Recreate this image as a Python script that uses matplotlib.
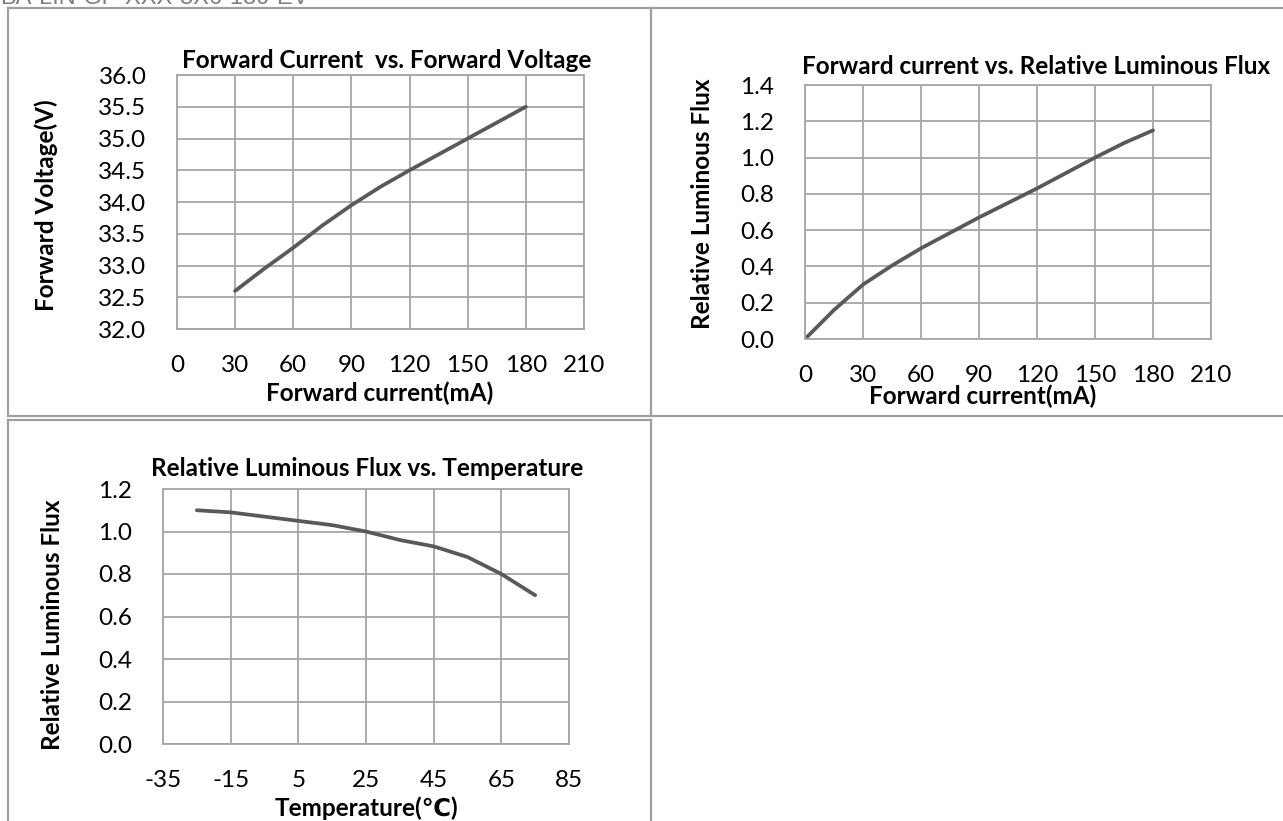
import matplotlib
matplotlib.use("Agg")
import matplotlib.pyplot as plt
from matplotlib.lines import Line2D

plt.rcParams['font.family'] = ['Lato', 'DejaVu Sans']
plt.rcParams['axes.unicode_minus'] = False

W, H = 1283, 821

# chart 1: forward current vs forward voltage
fv_current = [30, 45, 60, 75, 90, 105, 120, 135, 150, 165, 180]
fv_voltage = [32.6, 32.95, 33.28, 33.63, 33.95, 34.24, 34.5, 34.75, 35.0, 35.25, 35.5]

# chart 2: forward current vs relative luminous flux
lf_current = [0, 15, 30, 45, 60, 75, 90, 105, 120, 135, 150, 165, 180]
lf_flux = [0.0, 0.16, 0.3, 0.405, 0.5, 0.585, 0.67, 0.75, 0.83, 0.915, 1.0, 1.08, 1.15]

# chart 3: temperature vs relative luminous flux
temp = [-25, -15, -5, 5, 15, 25, 35, 45, 55, 65, 75]
temp_flux = [1.1, 1.09, 1.07, 1.05, 1.03, 1.0, 0.96, 0.93, 0.88, 0.8, 0.7]

header = "BA-LIN-GP-XXX-8X6-180-EV"

GRID = '#a6a6a6'
LINE = '#595959'
TABLE = '#a0a0a0'
FS = 17.5


def px_box(left, top, right, bottom):
    return [left / W, 1 - bottom / H, (right - left) / W, (bottom - top) / H]


def fx(x):
    return x / W


def fy(y):
    return 1 - y / H


fig = plt.figure(figsize=(W / 100, H / 100), dpi=100)

# table borders
table_lines = [
    ((8, 1283), (8, 8)),
    ((8, 8), (8, 416)),
    ((651, 651), (8, 416)),
    ((8, 1283), (416, 416)),
    ((8, 651), (420, 420)),
    ((8, 8), (420, 821)),
    ((651, 651), (420, 821)),
]
for xs, ys in table_lines:
    fig.add_artist(Line2D([fx(v) for v in xs], [fy(v) for v in ys],
                          color=TABLE, lw=1.6))

# page header, cut off by the top edge as in the scan
fig.text(fx(0), fy(4), header, family='Liberation Sans', fontsize=17,
         color='#7f7f7f', ha='left', va='baseline')


def style(ax, xlim, xticks, ylim, yticks, yfmt):
    ax.set_xlim(*xlim)
    ax.set_ylim(*ylim)
    ax.set_xticks(xticks)
    ax.set_yticks(yticks)
    ax.set_yticklabels([yfmt.format(v) for v in yticks])
    ax.grid(True, color=GRID, lw=1.3)
    ax.set_axisbelow(True)
    for s in ax.spines.values():
        s.set_color(GRID)
        s.set_linewidth(1.3)
    ax.tick_params(length=0, labelsize=FS, colors='black')
    ax.tick_params(axis='y', pad=22)
    ax.tick_params(axis='x', pad=19)


ax1 = fig.add_axes(px_box(177, 75, 584, 329))
ax1.plot(fv_current, fv_voltage, color=LINE, lw=2.7, solid_capstyle='round')
style(ax1, (0, 210), range(0, 211, 30), (32, 36),
      [32 + 0.5 * i for i in range(9)], '{:.1f}')
fig.text(fx(387), fy(60), 'Forward Current  vs. Forward Voltage',
         fontsize=FS, fontweight='bold', ha='center', va='center')
fig.text(fx(46), fy(205), 'Forward Voltage(V)', fontsize=FS,
         fontweight='bold', rotation=90, ha='center', va='center')
fig.text(fx(380), fy(393), 'Forward current(mA)', fontsize=FS,
         fontweight='bold', ha='center', va='center')

ax2 = fig.add_axes(px_box(805, 85, 1211, 339))
ax2.plot(lf_current, lf_flux, color=LINE, lw=2.7, solid_capstyle='round')
style(ax2, (0, 210), range(0, 211, 30), (0, 1.4),
      [0.2 * i for i in range(8)], '{:.1f}')
fig.text(fx(1036), fy(66), 'Forward current vs. Relative Luminous Flux',
         fontsize=FS, fontweight='bold', ha='center', va='center')
fig.text(fx(702), fy(204), 'Relative Luminous Flux', fontsize=FS,
         fontweight='bold', rotation=90, ha='center', va='center')
fig.text(fx(983), fy(396), 'Forward current(mA)', fontsize=FS,
         fontweight='bold', ha='center', va='center')

ax3 = fig.add_axes(px_box(163, 489, 569, 744))
ax3.plot(temp, temp_flux, color=LINE, lw=2.7, solid_capstyle='round')
style(ax3, (-35, 85), range(-35, 86, 20), (0, 1.2),
      [0.2 * i for i in range(7)], '{:.1f}')
fig.text(fx(367), fy(468), 'Relative Luminous Flux vs. Temperature',
         fontsize=FS, fontweight='bold', ha='center', va='center')
fig.text(fx(53), fy(625), 'Relative Luminous Flux', fontsize=FS,
         fontweight='bold', rotation=90, ha='center', va='center')
fig.text(fx(366), fy(808), 'Temperature(℃)', fontsize=FS,
         fontweight='bold', ha='center', va='center')

fig.savefig('out.png', dpi=100)
